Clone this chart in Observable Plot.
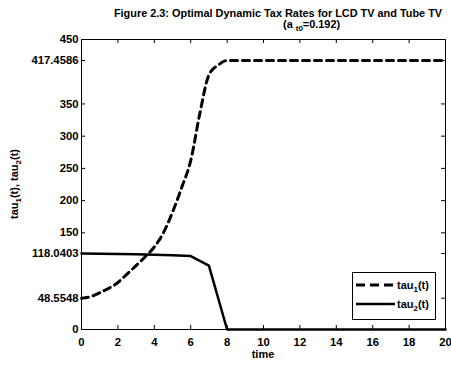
<!DOCTYPE html>
<html><head><meta charset="utf-8">
<script src="https://cdn.jsdelivr.net/npm/d3@7"></script>
<script src="https://cdn.jsdelivr.net/npm/@observablehq/plot@0.6"></script>
<style>body{margin:0;background:#fff}</style>
</head><body><div id="chart"></div>
<script>
// ---- data ----
const time1 = [0,0.5,1,1.5,2,2.5,3,3.5,4,4.5,5,5.5,6,6.5,7,7.5,8,10,12,14,16,18,20];
const tau1  = [48.5548,51,57,64,73,86,99,113,128,150,182,220,262,335,395,410,417.4586,417.4586,417.4586,417.4586,417.4586,417.4586,417.4586];
const time2 = [0,1,2,3,4,5,6,7,8,10,12,14,16,18,20];
const tau2  = [118.0403,117.6,117.1,116.6,116,115.3,114,99,0,0,0,0,0,0,0];
const xTicks = [0,2,4,6,8,10,12,14,16,18,20];
const yTicks = [0,48.5548,118.0403,150,200,250,300,350,417.4586,450];
const yTickLabels = ["0","48.5548","118.0403","150","200","250","300","350","417.4586","450"];
const seriesNames = ["tau","tau"];
const seriesSubs = ["1","2"];

const W = 451, H = 365, mL = 81, mR = 6, mT = 39, mB = 36;
const iw = W - mL - mR, ih = H - mT - mB, tk = 4;
const font = "'Liberation Sans', Arial, Helvetica, sans-serif";
const labelOf = new Map(yTicks.map((d, i) => [d, yTickLabels[i]]));

const d1 = time1.map((t, i) => ({t, v: tau1[i]}));
const d2 = time2.map((t, i) => ({t, v: tau2[i]}));

const chart = Plot.plot({
  width: W, height: H,
  marginLeft: mL, marginRight: mR, marginTop: mT, marginBottom: mB,
  x: {domain: [0, 20]},
  y: {domain: [0, 450]},
  style: {fontFamily: font, fontSize: "11.3px", fontWeight: "bold", background: "white", color: "black", overflow: "visible"},
  marks: [
    Plot.frame({stroke: "black", strokeWidth: 1}),
    Plot.axisX(xTicks, {tickSize: 0, tickPadding: 8, label: null, tickFormat: d => String(d)}),
    Plot.axisY(yTicks, {tickSize: 0, tickPadding: 3, label: null, tickFormat: d => labelOf.get(d)}),
    Plot.tickX(xTicks, {x: d => d, insetTop: ih - tk, stroke: "black"}),
    Plot.tickX(xTicks, {x: d => d, insetBottom: ih - tk, stroke: "black"}),
    Plot.tickY(yTicks, {y: d => d, insetRight: iw - tk, stroke: "black"}),
    Plot.tickY(yTicks, {y: d => d, insetLeft: iw - tk, stroke: "black"}),
    Plot.line(d2, {x: "t", y: "v", stroke: "black", strokeWidth: 2.5}),
    Plot.line(d1, {x: "t", y: "v", stroke: "black", strokeWidth: 3, strokeDasharray: "7,5", curve: "monotone-x"})
  ]
});
document.getElementById("chart").appendChild(chart);

const svg = d3.select(chart);
const txt = (sel) => sel.attr("font-family", font).attr("font-weight", "bold").attr("fill", "black");
// title
txt(svg.append("text")).attr("x", 278).attr("y", 17).attr("text-anchor", "middle").attr("font-size", 10.9)
  .text("Figure 2.3: Optimal Dynamic Tax Rates for LCD TV and Tube TV");
const sub = txt(svg.append("text")).attr("x", 283).attr("y", 28).attr("text-anchor", "start").attr("font-size", 10.9);
sub.append("tspan").text("(a ");
sub.append("tspan").attr("font-size", 8).attr("dy", 3).text("t0");
sub.append("tspan").attr("dy", -3).text("=0.192)");

// axis labels
txt(svg.append("text")).attr("x", 263).attr("y", 358).attr("text-anchor", "middle").attr("font-size", 11).text("time");
const yl = txt(svg.append("text")).attr("transform", "translate(18,184) rotate(-90)").attr("text-anchor", "middle").attr("font-size", 11);
yl.append("tspan").text(seriesNames[0]);
yl.append("tspan").attr("font-size", 8).attr("dy", 3).text(seriesSubs[0]);
yl.append("tspan").attr("dy", -3).text("(t), " + seriesNames[1]);
yl.append("tspan").attr("font-size", 8).attr("dy", 3).text(seriesSubs[1]);
yl.append("tspan").attr("dy", -3).text("(t)");

// legend
const lg = svg.append("g");
lg.append("rect").attr("x", 352.5).attr("y", 272.5).attr("width", 83).attr("height", 47)
  .attr("fill", "white").attr("stroke", "black").attr("stroke-width", 1);
const rows = [{y: 285, dash: "9,5", w: 3}, {y: 304, dash: null, w: 2.5}];
rows.forEach((r, i) => {
  lg.append("line").attr("x1", 356).attr("x2", 395).attr("y1", r.y).attr("y2", r.y)
    .attr("stroke", "black").attr("stroke-width", r.w).attr("stroke-dasharray", r.dash);
  const t = txt(lg.append("text")).attr("x", 397).attr("y", r.y + 4).attr("text-anchor", "start").attr("font-size", 11);
  t.append("tspan").text(seriesNames[i]);
  t.append("tspan").attr("font-size", 8).attr("dy", 3).text(seriesSubs[i]);
  t.append("tspan").attr("dy", -3).text("(t)");
});
</script>
</body></html>
